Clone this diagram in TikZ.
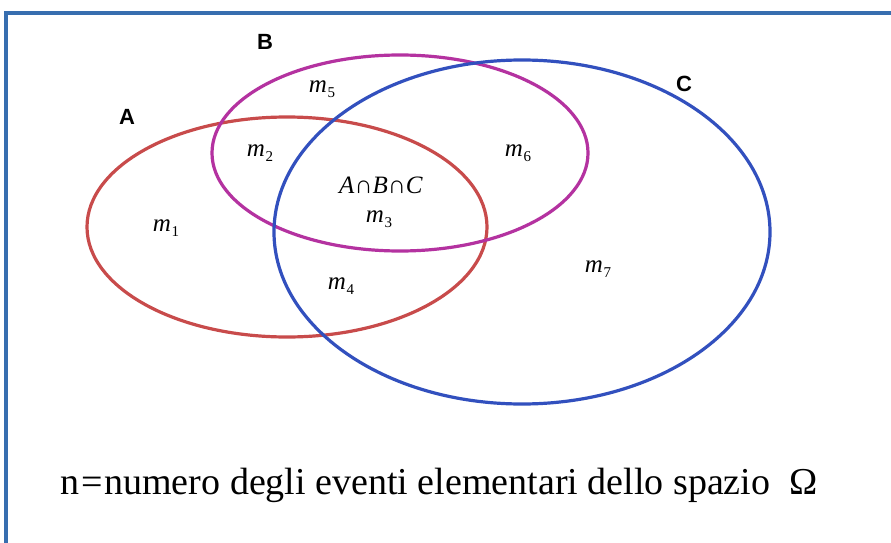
\documentclass[tikz,border=0pt]{standalone}
\usepackage{fontspec}
\setmainfont{Liberation Serif}
\setsansfont{Liberation Sans}
\usepackage{xcolor}
\definecolor{frameblue}{RGB}{55,110,175}
\definecolor{setred}{RGB}{200,75,75}
\definecolor{setmagenta}{RGB}{180,50,160}
\definecolor{setblue}{RGB}{50,80,190}
\newcommand{\mlab}[1]{\textit{m}\kern0.02em\raisebox{-0.4ex}{\fontsize{15}{15}\selectfont #1}}

\begin{document}
\begin{tikzpicture}[x=1pt, y=-1pt,
    setname/.style={font=\sffamily\bfseries\fontsize{22}{22}\selectfont},
    region/.style={font=\fontsize{25}{25}\selectfont, inner sep=0pt}]
    \useasboundingbox (0, 0) rectangle (891, 543);
    \fill[white] (0, 0) rectangle (891, 543);

    % cornice
    \draw[frameblue, line width=3.5pt] (6, 543) -- (6, 13) -- (891, 13);

    % insiemi
    \draw[setred, line width=3.2pt] (287, 227) ellipse [x radius=200, y radius=110];
    \draw[setmagenta, line width=3.2pt] (400, 153) ellipse [x radius=188, y radius=98];
    \draw[setblue, line width=3.2pt] (522, 232) ellipse [x radius=248, y radius=172];

    \node[setname] (nameA) at (127, 117) {A};
    \node[setname] (nameB) at (265, 42) {B};
    \node[setname] (nameC) at (684, 84) {C};

    \node[region] (m1) at (166, 228) {\mlab{1}};
    \node[region] (m2) at (260, 153) {\mlab{2}};
    \node[region] (m5) at (322, 89) {\mlab{5}};
    \node[region] (m6) at (518, 153) {\mlab{6}};
    \node[region] (abc) at (381, 185) {\textit{A}∩\textit{B}∩\textit{C}};
    \node[region] (m3) at (379, 219) {\mlab{3}};
    \node[region] (m4) at (341, 286) {\mlab{4}};
    \node[region] (m7) at (598, 269) {\mlab{7}};

    \node[font=\fontsize{38}{38}\selectfont, anchor=base west, inner sep=0pt] (legend) at (60, 494)
        {n\kern0.05em=\kern0.05em numero degli eventi elementari dello spazio\ \ Ω};
\end{tikzpicture}
\end{document}
